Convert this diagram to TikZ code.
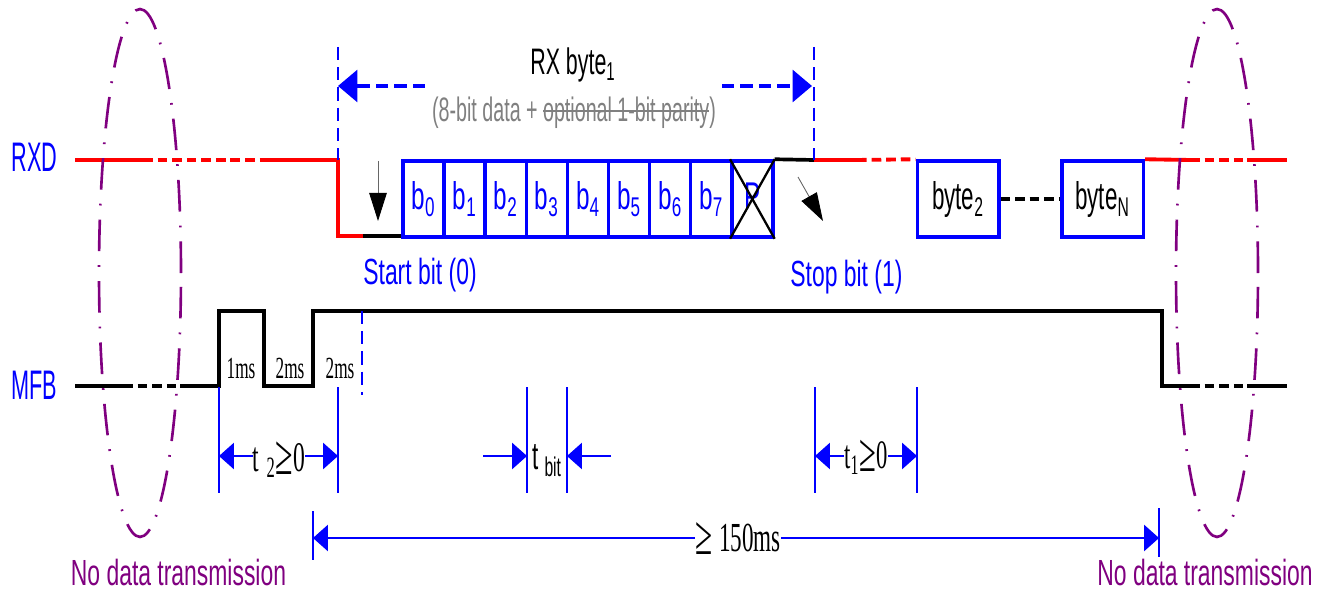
\documentclass[tikz,border=0pt]{standalone}
\usepackage{fontspec}
\usepackage{graphicx}
\setmainfont{Liberation Sans}[FakeStretch=0.58]
\newfontfamily\sna{Liberation Sans}[FakeStretch=0.525]
\newfontfamily\snb{Liberation Sans}[FakeStretch=0.63]
\newfontfamily\nserif{Liberation Serif}[FakeStretch=0.56]
\usetikzlibrary{arrows.meta}
\definecolor{cblue}{RGB}{0,0,255}
\definecolor{cred}{RGB}{255,0,0}
\definecolor{cpurple}{RGB}{128,0,128}
\definecolor{cgrey}{RGB}{128,128,128}
\newcommand\sbs[1]{\textsubscript{#1}}
\newcommand\fs[1]{\fontsize{#1}{#1}\selectfont}
\newcommand\strk[1]{\leavevmode\setbox0\hbox{#1}\rlap{\rule[0.3em]{\wd0}{0.06em}}\box0}
\newcommand\bge{\raisebox{-0.08em}{\scalebox{1.35}{≥}}}
\begin{document}
\begin{tikzpicture}[x=0.02cm,y=-0.02cm,
  redsig/.style={draw=cred,line width=2.2pt},
  blksig/.style={draw=black,line width=2.1pt},
  dsh/.style={dash pattern=on 5.5pt off 2.8pt},
  bitbox/.style={draw=cblue,line width=2pt,inner sep=0pt,minimum width=0.822cm,minimum height=1.52cm},
  bytebox/.style={draw=cblue,line width=2pt,inner sep=0pt,minimum width=1.63cm,minimum height=1.52cm},
  bluevdash/.style={draw=cblue,line width=1.3pt,dash pattern=on 7.5pt off 4pt},
  thinb/.style={draw=cblue,line width=0.6pt},
  dimarr/.style={draw=cblue,line width=0.7pt,-{Triangle[length=8.5pt,width=15pt]}},
  toparr/.style={draw=cblue,line width=2.2pt,dash pattern=on 7pt off 3.5pt,-{Triangle[length=11pt,width=18pt]}},
  blkarr/.style={draw=black!60,line width=0.5pt,-{Triangle[length=16pt,width=10pt,black]}},
  ellip/.style={draw=cpurple,line width=1.5pt,dash pattern=on 18pt off 8pt on 1pt off 8pt},
  lbl/.style={inner sep=0pt},
]
\fill[white] (0,0) rectangle (1331,591);
\useasboundingbox (0,0) rectangle (1331,591);

% signal names
\node[lbl,anchor=base,text=cblue,font=\sna\fs{23.5}] (rxd) at (34.5,172) {RXD};
\node[lbl,anchor=base,text=cblue,font=\sna\fs{23.5}] (mfb) at (34.5,399) {MFB};

% RXD line
\draw[redsig] (75,160) -- (143,160);
\draw[redsig,dsh] (143,160) -- (260,160);
\draw[redsig] (260,160) -- (338,160) -- (338,236) -- (363,236);
\draw[blksig] (363,236) -- (404,236);

% data bits
\foreach \i in {0,...,7}{
  \node[bitbox] (bit\i) at ({403+41.1*(\i+0.5)},199) {};
  \node[lbl,anchor=base,text=cblue,font=\snb\fs{22}] (bt\i) at ({403+41.1*(\i+0.5)},210) {b\sbs{\i}};
}
\node[bitbox] (pbox) at ({403+41.1*8.5},199) {};
\node[lbl,anchor=base,text=cblue,font=\snb\fs{22}] (pt) at ({403+41.1*8.5},210) {P};
\draw[black,line width=1.3pt] (pbox.north west) -- (pbox.south east);
\draw[black,line width=1.3pt] (pbox.south west) -- (pbox.north east);

\draw[blksig] (pbox.north east) -- (814,160);
\draw[redsig] (814,160) -- (857,160);
\node[bytebox] (byte2) at (958,199) {};
\node[lbl,anchor=base,font=\fs{22}] (b2t) at (958,210) {byte\sbs{2}};
\node[bytebox] (byteN) at (1102.5,199) {};
\node[lbl,anchor=base,font=\fs{22}] (bNt) at (1102.5,210) {byte\sbs{N}};
\draw[redsig,dsh] (857,160) -- (byte2.north west);
\draw[blksig,dsh] (byte2.east) -- (byteN.west);
\draw[redsig] (byteN.north east) -- (1190,160);
\draw[redsig,dsh] (1190,160) -- (1247,160);
\draw[redsig] (1247,160) -- (1287,160);

% RX byte frame
\coordinate (fl) at (338,47);
\coordinate (fr) at (814,47);
\draw[bluevdash] (fl) -- (338,160);
\draw[bluevdash] (fr) -- (814,160);
\node[lbl,anchor=base,font=\fs{21}] (rxbyte) at (573,75) {RX byte\sbs{1}};
\node[lbl,anchor=base,text=cgrey,font=\fs{19.3}] (bitinfo) at (574,122) {(8-bit data + \strk{optional 1-bit parity})};
\coordinate (tal) at (425,86);
\coordinate (tar) at (722,86);
\draw[toparr] (tal) -- (338,86);
\draw[toparr] (tar) -- (812,86);

% start/stop
\draw[blkarr] (378,161) -- (378,221);
\node[lbl,anchor=base west,text=cblue,font=\snb\fs{20.7}] (startbit) at (363,284) {Start bit (0)};
\draw[blkarr] (798,177) -- (823,221);
\node[lbl,anchor=base west,text=cblue,font=\snb\fs{20.7}] (stopbit) at (790,286) {Stop bit (1)};

% MFB line
\draw[blksig] (75,386) -- (123,386);
\draw[blksig,dsh] (123,386) -- (180,386);
\draw[blksig] (180,386) -- (219,386) -- (219,311) -- (264,311) -- (264,386) -- (313,386) -- (313,311) -- (1162,311) -- (1162,386) -- (1190,386);
\draw[blksig,dsh] (1190,386) -- (1247,386);
\draw[blksig] (1247,386) -- (1287,386);
\draw[bluevdash] (362,311) -- (362,395);

\node[lbl,anchor=base,font=\nserif\fs{17.5}] (p1) at (241,378) {1ms};
\node[lbl,anchor=base,font=\nserif\fs{17.5}] (p2) at (290,378) {2ms};
\node[lbl,anchor=base,font=\nserif\fs{17.5}] (p3) at (340,378) {2ms};

% timing dimensions
\draw[thinb] (219,387) -- (219,493);
\draw[thinb] (338,387) -- (338,493);
\node[lbl,anchor=base,font=\nserif\fs{24}] (t2) at (279,471) {t\,\sbs{2}\bge0};
\draw[dimarr] (t2.west |- 0,456) -- (219,456);
\draw[dimarr] (t2.east |- 0,456) -- (338,456);

\draw[thinb] (527,387) -- (527,493);
\draw[thinb] (567,387) -- (567,493);
\node[lbl,anchor=base,font=\fs{22}] (tbit) at (547,469) {t \sbs{bit}};
\coordinate (tbl) at (483,456);
\coordinate (tbr) at (611,456);
\draw[dimarr] (tbl) -- (527,456);
\draw[dimarr] (tbr) -- (567,456);

\draw[thinb] (815,387) -- (815,493);
\draw[thinb] (917,387) -- (917,493);
\node[lbl,anchor=base,font=\nserif\fs{23}] (t1) at (866,468) {t\sbs{1}\bge0};
\draw[dimarr] (t1.west |- 0,456) -- (815,456);
\draw[dimarr] (t1.east |- 0,456) -- (917,456);

\draw[thinb] (313,511) -- (313,560);
\draw[thinb] (1159,508) -- (1159,557);
\node[lbl,anchor=base,font=\nserif\fs{23.5}] (t150) at (738,551) {\bge\,150ms};
\coordinate (l150) at (313,538);
\coordinate (r150) at (1159,538);
\draw[dimarr] (t150.west |- l150) -- (l150);
\draw[dimarr] (t150.east |- r150) -- (r150);

% idle ellipses
\draw[ellip] (140,273) ellipse [x radius=0.82cm, y radius=5.28cm];
\draw[ellip] (1217,273) ellipse [x radius=0.82cm, y radius=5.28cm];
\node[lbl,anchor=base,text=cpurple,font=\snb\fs{20.7}] (nd1) at (178.5,585) {No data transmission};
\node[lbl,anchor=base,text=cpurple,font=\snb\fs{20.7}] (nd2) at (1205,585) {No data transmission};
\end{tikzpicture}
\end{document}
